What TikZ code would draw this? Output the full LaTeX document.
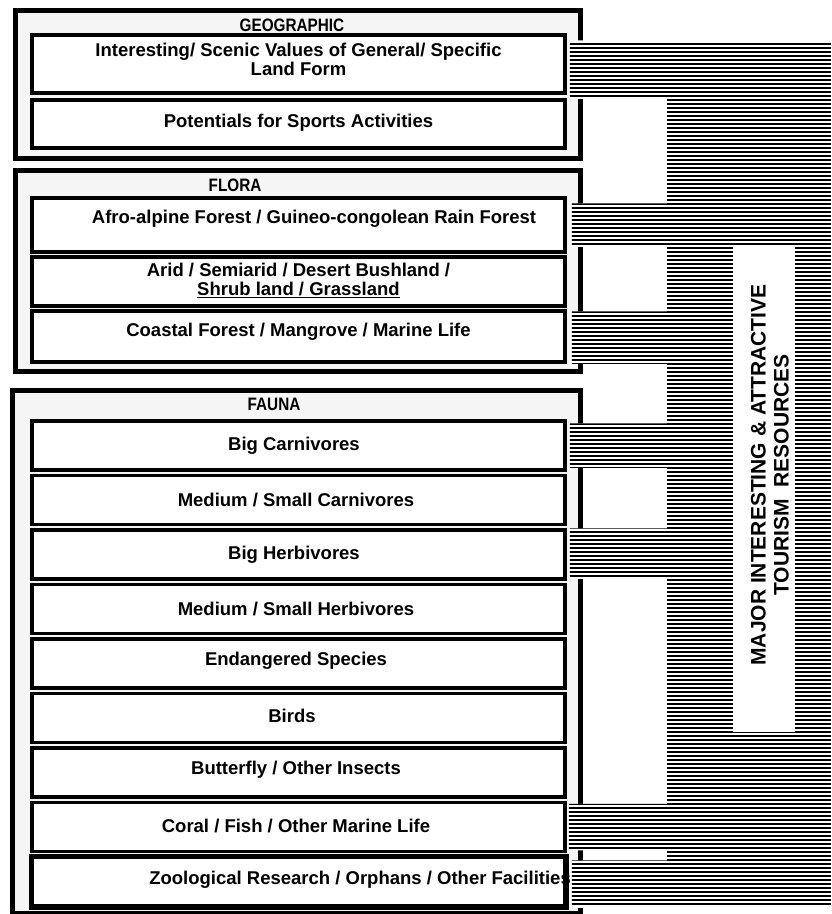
\documentclass[tikz,border=0pt]{standalone}
\usepackage{fontspec}
\setmainfont{Liberation Sans}
\newfontfamily\headfont{Liberation Sans}[FakeStretch=0.85]
\begin{document}
\begin{tikzpicture}[x=1pt,y=-1pt,
  outerbox/.style={draw=black,line width=5pt,fill=black!4,anchor=north west,inner sep=0pt},
  innerbox/.style={draw=black,line width=3.5pt,fill=white,inner sep=2pt,align=center,
    minimum width=533pt},
  itemtext/.style={font=\bfseries\fontsize{18.5}{19}\selectfont,align=center,inner sep=0pt},
  headtext/.style={font=\headfont\bfseries\fontsize{18}{19}\selectfont,inner sep=0pt},
  hatchline/.style={line width=2.6pt},
  sidetext/.style={font=\bfseries\fontsize{21}{23}\selectfont,align=center,rotate=90,inner sep=0pt},
  whitepanel/.style={fill=white,inner sep=0pt}]
\useasboundingbox (0,0) rectangle (831,914);

% outer group boxes
\node[outerbox,minimum width=565pt,minimum height=148pt] (geo) at (13,8) {};
\node[outerbox,minimum width=565pt,minimum height=201pt] (flora) at (13,168) {};
\node[outerbox,minimum width=568pt,minimum height=523pt] (fauna) at (10,388) {};

% headers
\node[headtext] (hgeo) at (292,25) {GEOGRAPHIC};
\node[headtext] (hflora) at (235,185) {FLORA};
\node[headtext] (hfauna) at (274,404) {FAUNA};

% geographic items
\node[innerbox,minimum height=58pt] (g1) at (298.5,64) {};
\node[itemtext] (g1t) at (298.5,59) {Interesting/ Scenic Values of General/ Specific\\Land Form};
\node[innerbox,minimum height=48pt] (g2) at (298.5,124) {};
\node[itemtext] (g2t) at (298.5,123) {Potentials for Sports Activities};

% flora items
\node[innerbox,minimum height=54pt] (f1) at (298.5,225) {};
\node[itemtext] (f1t) at (314,219) {Afro-alpine Forest / Guineo-congolean Rain Forest};
\node[innerbox,minimum height=49pt] (f2) at (298.5,281.5) {};
\node[itemtext] (f2t) at (298.5,280) {Arid / Semiarid / Desert Bushland /\\\underline{Shrub land / Grassland}};
\node[innerbox,minimum height=51pt] (f3) at (298.5,336.5) {};
\node[itemtext] (f3t) at (298.5,332) {Coastal Forest / Mangrove / Marine Life};

% fauna items
\node[innerbox,minimum height=49pt] (a1) at (298.5,445.5) {};
\node[itemtext] (a1t) at (294,445.5) {Big Carnivores};
\node[innerbox,minimum height=49pt] (a2) at (298.5,500) {};
\node[itemtext] (a2t) at (296,500) {Medium / Small Carnivores};
\node[innerbox,minimum height=49pt] (a3) at (298.5,554.5) {};
\node[itemtext] (a3t) at (294,554.5) {Big Herbivores};
\node[innerbox,minimum height=49pt] (a4) at (298.5,609) {};
\node[itemtext] (a4t) at (296,609) {Medium / Small Herbivores};
\node[innerbox,minimum height=49pt] (a5) at (298.5,663.5) {};
\node[itemtext] (a5t) at (296,661) {Endangered Species};
\node[innerbox,minimum height=49pt] (a6) at (298.5,718) {};
\node[itemtext] (a6t) at (292,716) {Birds};
\node[innerbox,minimum height=49pt] (a7) at (298.5,772.5) {};
\node[itemtext] (a7t) at (296,770) {Butterfly / Other Insects};
\node[innerbox,minimum height=49pt] (a8) at (298.5,827) {};
\node[itemtext] (a8t) at (296,826) {Coral / Fish / Other Marine Life};
\node[innerbox,minimum height=49pt] (a9) at (298.5,881.5) {};
\begin{scope}
  \clip ([xshift=-2pt]a9.north west) rectangle ([xshift=5pt]a9.south east);
  \node[itemtext,anchor=east] (a9t) at (571,880) {Zoological Research / Orphans / Other Facilities};
\end{scope}
\draw[line width=3.5pt] (a9.north west) rectangle (a9.south east);

% hatched bands joining the boxes to the column
\coordinate (pr) at (831,0);
\coordinate (colL) at (667,43);
\coordinate (colR) at (831,905);
\def\bandpath{
  ([xshift=3pt,yshift=-7pt]g1.north east) rectangle ([yshift=-4pt]g1.south east -| pr)
  ([xshift=5pt,yshift=-7pt]f1.north east) rectangle ([yshift=7pt]f1.south east -| pr)
  ([xshift=5pt,yshift=-2pt]f3.north east) rectangle ([yshift=0pt]f3.south east -| pr)
  ([xshift=3pt,yshift=-4pt]a1.north east) rectangle ([yshift=4pt]a1.south east -| pr)
  ([xshift=3pt,yshift=0pt]a3.north east) rectangle ([yshift=2pt]a3.south east -| pr)
  ([xshift=2pt,yshift=-3pt]a8.north east) rectangle ([yshift=3pt]a8.south east -| pr)
  ([xshift=5pt,yshift=-5pt]a9.north east) rectangle ([yshift=0pt]a9.south east -| pr)
  (colL) rectangle (colR)}
\fill[white] \bandpath;
\begin{scope}
  \clip \bandpath;
  \foreach \y in {44,48,...,904} \draw[hatchline] (560,\y) -- (831,\y);
\end{scope}

% white panel with the title
\node[whitepanel,minimum width=62pt,minimum height=487pt] (panel) at (764,488.5) {};
\node[sidetext] (title) at (770,475) {MAJOR INTERESTING \& ATTRACTIVE\\TOURISM\ \ RESOURCES};
\end{tikzpicture}
\end{document}
